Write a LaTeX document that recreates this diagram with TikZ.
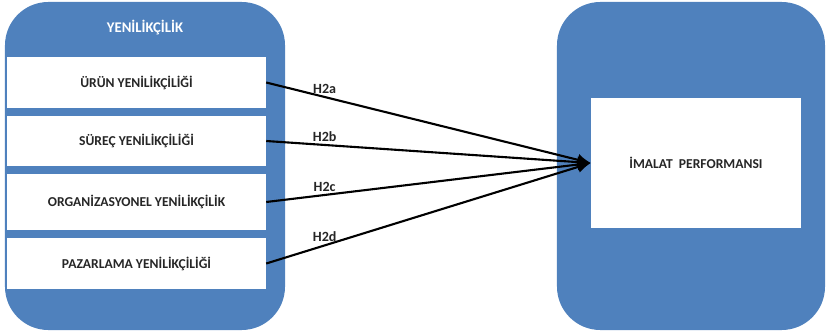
\documentclass[tikz,border=0pt]{standalone}
\usepackage{fontspec}
\setmainfont{Carlito}
\usetikzlibrary{arrows.meta, positioning}
\definecolor{panelblue}{HTML}{4F81BD}

\begin{document}
\begin{tikzpicture}[x=0.03cm, y=-0.03cm,
  panel/.style={draw=none, fill=panelblue, rounded corners=1.3cm, inner sep=0pt},
  item/.style={draw=none, fill=white, inner sep=0pt, minimum width=7.77cm, font=\bfseries\fontsize{11.6}{13}\selectfont, text=black!85},
  hyp/.style={font=\bfseries\fontsize{12}{14}\selectfont, text=black!85, inner sep=1pt}]

\useasboundingbox (0,0) rectangle (826,334);

\node (L) [panel, minimum width=8.4cm, minimum height=9.84cm] at (145,166) {};
\node (R) [panel, minimum width=8.04cm, minimum height=9.84cm] at (691,166) {};
\node (T) [font=\bfseries\fontsize{12.6}{14}\selectfont, text=white] at (145,28) {YENİLİKÇİLİK};
\node (U) [item, minimum height=1.53cm] at (136.5,82.5) {ÜRÜN YENİLİKÇİLİĞİ};
\node (S) [item, minimum height=1.50cm] at (136.5,141) {SÜREÇ YENİLİKÇİLİĞİ};
\node (O) [item, minimum height=1.68cm] at (136.5,202) {ORGANİZASYONEL YENİLİKÇİLİK};
\node (P) [item, minimum height=1.53cm] at (136.5,263.5) {PAZARLAMA YENİLİKÇİLİĞİ};
\node (M) [item, minimum width=6.3cm, minimum height=3.9cm] at (696,163) {İMALAT\ \ PERFORMANSI};

%Hypotheses:
\path [line width=1.8pt, -{Latex[length=4mm,width=3.6mm]}]
(U.east) edge node [hyp, pos=0.18, above=1pt] (H2a) {H2a} (M.west)
(S.east) edge node [hyp, pos=0.18, above=1pt] (H2b) {H2b} (M.west)
(O.east) edge node [hyp, pos=0.18, above=1pt] (H2c) {H2c} (M.west)
(P.east) edge node [hyp, pos=0.18, above=1pt] (H2d) {H2d} (M.west)
;

\end{tikzpicture}
\end{document}
